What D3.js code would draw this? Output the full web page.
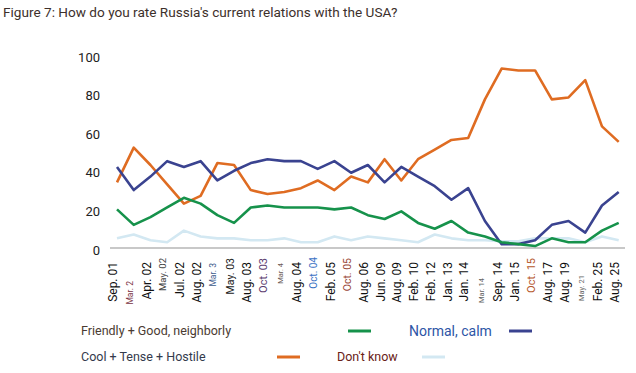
<!DOCTYPE html>
<html>
<head>
<meta charset="utf-8">
<script src="https://cdn.jsdelivr.net/npm/d3@7"></script>
<style>
  body { margin: 0; background: #fff; }
  text { font-family: Roboto, "Open Sans", sans-serif; }
</style>
</head>
<body>
<div id="chart"></div>
<script>
// Survey waves (x categories)
const waves = ["Sep. 01", "Mar. 2", "Apr. 02", "May. 02", "Jul. 02", "Aug. 02", "Mar. 3", "May. 03",
  "Aug. 03", "Oct. 03", "Mar. 4", "Aug. 04", "Oct. 04", "Feb. 05", "Oct. 05", "Aug. 06",
  "Jun. 09", "Aug. 09", "Feb. 10", "Feb. 12", "Jan. 13", "Jan. 14", "Mar. 14", "Sep. 14",
  "Jan. 15", "Oct. 15", "Aug. 17", "Aug. 19", "May. 21", "Feb. 25", "Aug. 25"];

const friendly = [20, 12, 16, 21, 26, 23, 17, 13, 21, 22, 21, 21, 21, 20, 21, 17,
  15, 19, 13, 10, 14, 8, 6, 3, 2, 1, 5, 3, 3, 9, 13];
const normal = [42, 30, 37, 45, 42, 45, 35, 40, 44, 46, 45, 45, 41, 45, 39, 43,
  34, 42, 37, 32, 25, 31, 14, 2, 2, 4, 12, 14, 8, 22, 29];
const hostile = [34, 52, 43, 33, 23, 27, 44, 43, 30, 28, 29, 31, 35, 30, 37, 34,
  46, 35, 46, 51, 56, 57, 77, 93, 92, 92, 77, 78, 87, 63, 55];
const dontKnow = [5, 7, 4, 3, 9, 6, 5, 5, 4, 4, 5, 3, 3, 6, 4, 6,
  5, 4, 3, 7, 5, 4, 4, 3.5, 3.5, 5, 5, 5, 3, 6, 4];

const yTicks = [0, 20, 40, 60, 80, 100];

const series = [
  {name: "Friendly + Good, neighborly", values: friendly, color: "#16924b"},
  {name: "Normal, calm", values: normal, color: "#3a4390"},
  {name: "Cool + Tense + Hostile", values: hostile, color: "#df6c22"},
  {name: "Don't know", values: dontKnow, color: "#d3e8f2"}
];

// odd-looking tick labels in the source (smaller, coloured, shifted)
const labelStyle = {
  "Mar. 2": {size: 8.5, color: "#7a3345", top: 281},
  "May. 02": {size: 9.5, color: "#444", top: 258},
  "Mar. 3": {size: 8.5, color: "#3d5b8c", top: 263},
  "May. 03": {size: 10.5, color: "#222", top: 258},
  "Oct. 03": {size: 11, color: "#5a3a6e", top: 258},
  "Mar. 4": {size: 7.5, color: "#6b5a55", top: 263},
  "Oct. 04": {size: 10, color: "#3b72c4", top: 257},
  "Oct. 05": {size: 10.5, color: "#9a4a3a", top: 258},
  "Mar. 14": {size: 7.5, color: "#666", top: 278},
  "Oct. 15": {size: 11, color: "#b5562a", top: 258},
  "May. 21": {size: 7.5, color: "#666", top: 275}
};

const W = 636, H = 373;

const svg = d3.select("#chart").append("svg")
  .attr("width", W)
  .attr("height", H);

const x = d3.scalePoint()
  .domain(waves)
  .range([117, 618.7]);

const y = d3.scaleLinear()
  .domain([0, 100])
  .range([248, 55]);

// Title
svg.append("text")
  .attr("x", 3)
  .attr("y", 17)
  .style("font-size", "13.6px")
  .style("fill", "#3d302b")
  .text("Figure 7: How do you rate Russia's current relations with the USA?");

// Y axis labels
const yAxis = svg.append("g")
  .attr("transform", "translate(100,2)")
  .call(d3.axisLeft(y).tickValues(yTicks).tickSize(0).tickPadding(0));
yAxis.select(".domain").remove();
yAxis.selectAll("text")
  .style("font-family", "Roboto, sans-serif")
  .style("font-size", "13px")
  .style("fill", "#222");

// Baseline
svg.append("line")
  .attr("x1", 110).attr("x2", 625)
  .attr("y1", y(0)).attr("y2", y(0))
  .attr("stroke", "#c8c8c8")
  .attr("stroke-width", 2);

// X axis labels, rotated
svg.append("g")
  .selectAll("text")
  .data(waves)
  .enter()
  .append("text")
  .attr("transform", d => {
    const s = labelStyle[d];
    return `translate(${x(d) - 4},${s ? s.top : 262}) rotate(-90)`;
  })
  .attr("dy", "0.35em")
  .style("text-anchor", "end")
  .style("font-size", d => (labelStyle[d] ? labelStyle[d].size : 12) + "px")
  .style("fill", d => labelStyle[d] ? labelStyle[d].color : "#111")
  .text(d => d);

// Lines
const line = d3.line()
  .x((d, i) => x(waves[i]))
  .y(d => y(d));

// draw light series first so darker ones sit on top
[3, 2, 1, 0].forEach(k => {
  svg.append("path")
    .datum(series[k].values)
    .attr("fill", "none")
    .attr("stroke", series[k].color)
    .attr("stroke-width", 2.6)
    .attr("stroke-linejoin", "round")
    .attr("d", line);
});

// Legend (label followed by a short line)
const legend = [
  {s: series[0], tx: 81, ty: 331, lx: 348, fs: 12.5, tc: "#4a3b32"},
  {s: series[1], tx: 409, ty: 331, lx: 509, fs: 14, tc: "#2d55a6"},
  {s: series[2], tx: 81, ty: 357, lx: 277, fs: 12.5, tc: "#333a4c"},
  {s: series[3], tx: 337, ty: 357, lx: 422, fs: 12.5, tc: "#6a2216"}
];

legend.forEach(l => {
  svg.append("text")
    .attr("x", l.tx)
    .attr("y", l.ty)
    .attr("dy", "0.35em")
    .style("font-size", l.fs + "px")
    .style("fill", l.tc)
    .text(l.s.name);
  svg.append("line")
    .attr("x1", l.lx).attr("x2", l.lx + 23)
    .attr("y1", l.ty).attr("y2", l.ty)
    .attr("stroke", l.s.color)
    .attr("stroke-width", 3);
});
</script>
</body>
</html>
